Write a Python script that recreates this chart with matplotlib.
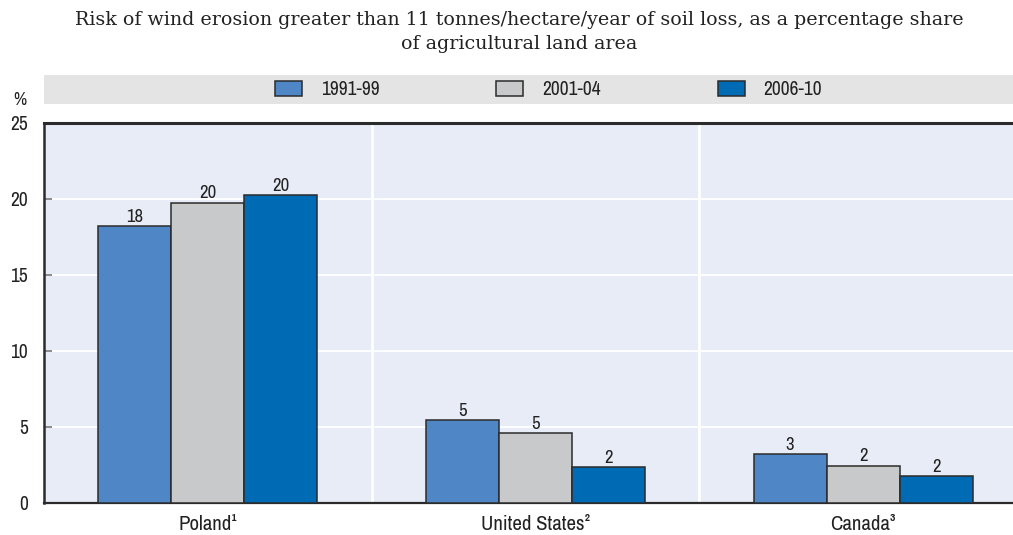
import matplotlib
matplotlib.use("Agg")
import matplotlib.pyplot as plt
from matplotlib.patches import Rectangle
from matplotlib import font_manager as fm
import numpy as np

categories = ["Poland\u00b9", "United States\u00b2", "Canada\u00b3"]
series_names = ["1991-99", "2001-04", "2006-10"]
v_1991_99 = [18.2, 5.45, 3.2]
v_2001_04 = [19.75, 4.6, 2.45]
v_2006_10 = [20.25, 2.35, 1.75]
yticks = [0, 5, 10, 15, 20, 25]
subtitle = ("Risk of wind erosion greater than 11 tonnes/hectare/year of soil loss, as a percentage share\n"
            "of agricultural land area")

# find a narrow sans font if one is available
narrow_file = None
cands = []
for f in fm.fontManager.ttflist:
    nm = f.name.lower()
    fn = f.fname.lower()
    if f.style != 'normal' or f.weight not in (400, 'normal', 'regular'):
        continue
    if 'narrow' in nm or 'narrow' in fn:
        cands.append((0, f.fname))
    elif 'condensed' in nm or 'condensed' in fn or f.stretch in ('condensed', 'semi-condensed'):
        if 'serif' in nm or 'mono' in nm or 'bold' in fn or 'oblique' in fn or 'italic' in fn:
            continue
        pri = 1 if 'roboto' in nm else (2 if 'dejavu' in nm else 3)
        cands.append((pri, f.fname))
cands.sort()
if cands:
    narrow_file = cands[0][1]

def fp(size):
    if narrow_file:
        return fm.FontProperties(fname=narrow_file, size=size)
    return fm.FontProperties(family='Liberation Sans', size=size)

colors = ["#4f87c6", "#c8c9cb", "#006bb5"]
bg = "#e8ecf6"
edge = "#2b2b2b"
txt = "#222222"

fig = plt.figure(figsize=(10.13, 5.35), dpi=100)
ax = fig.add_axes([44/1013, 1-503/535, (1027-44)/1013, 380/535])
ax.set_facecolor(bg)

x = np.arange(len(categories))
w = 0.223
series = [v_1991_99, v_2001_04, v_2006_10]
handles = []
for i, (vals, c, name) in enumerate(zip(series, colors, series_names)):
    bars = ax.bar(x + (i-1)*w, vals, width=w, color=c, edgecolor=edge, linewidth=1.1,
                  label=name, zorder=3)
    handles.append(bars)
    for xi, v in zip(x + (i-1)*w, vals):
        ax.text(xi, v + 0.1, f"{round(v):d}", ha='center', va='bottom',
                fontproperties=fp(13.5), color=txt, zorder=4)

ax.set_xlim(-0.5, 2.5)
ax.set_ylim(0, 25)
ax.set_yticks(yticks)
ax.set_yticklabels([str(t) for t in yticks], color=txt)
for lab in ax.get_yticklabels():
    lab.set_fontproperties(fp(14))
for t in [5, 10, 15, 20]:
    ax.axhline(t, color="white", lw=1.3, zorder=1)
for s in [0.5, 1.5]:
    ax.axvline(s, color="white", lw=2.0, zorder=1)
ax.set_xticks(x)
ax.set_xticklabels(categories, color=txt)
for lab in ax.get_xticklabels():
    lab.set_fontproperties(fp(15))
ax.tick_params(axis='x', length=0, pad=9)
ax.tick_params(axis='y', direction='in', length=6, width=1.2, color="#777777", pad=11.5)
for sp in ['top', 'left', 'bottom']:
    ax.spines[sp].set_color(edge)
ax.spines['top'].set_linewidth(2.2)
ax.spines['left'].set_linewidth(1.8)
ax.spines['bottom'].set_linewidth(1.6)
ax.spines['right'].set_visible(False)

# legend band
fig.patches.append(Rectangle((44/1013, 1-104/535), 1-44/1013, 29/535,
                             transform=fig.transFigure, facecolor="#e4e4e5",
                             edgecolor='none', zorder=0))
leg = fig.legend(handles=handles, labels=series_names, ncol=3, loc='center',
                 bbox_to_anchor=(548.5/1013, 1-89.5/535), frameon=False,
                 prop=fp(14), handlelength=1.39, handleheight=0.8,
                 handletextpad=0.98, columnspacing=6.0, borderpad=0, borderaxespad=0)
for t in leg.get_texts():
    t.set_color(txt)

fig.text(20/1013, 1-100/535, "%", ha='center', va='center', fontproperties=fp(13), color=txt)
fig.text(519/1013, 1-32/535, subtitle, ha='center', va='center', fontsize=13.7,
         family=['DejaVu Serif'], color=txt, linespacing=1.42)

fig.savefig("out.png", dpi=100)
